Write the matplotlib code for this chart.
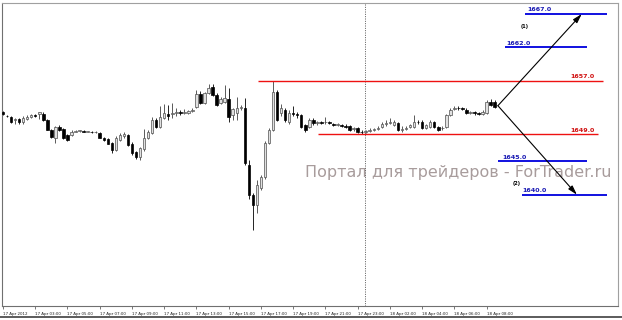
import matplotlib
matplotlib.use("Agg")
import matplotlib.pyplot as plt
from matplotlib.lines import Line2D
from matplotlib.transforms import ScaledTranslation

# ---------------- data ----------------
opens = [1652.4, 1651.8, 1651.6, 1651.1, 1651.3, 1650.9, 1651.3, 1651.6, 1651.9, 1652.1,
         1652.1, 1651.2, 1649.7, 1648.5, 1650.1, 1649.8, 1648.9, 1648.9, 1649.4, 1649.5,
         1649.5, 1649.4, 1649.4, 1649.3, 1649.2, 1648.5, 1648.3, 1647.7, 1646.7, 1648.2,
         1648.8, 1648.9, 1647.6, 1646.4, 1645.6, 1646.8, 1648.5, 1649.2, 1651.2, 1650.1,
         1651.5, 1652.0, 1652.0, 1652.2, 1652.3, 1652.2, 1652.2, 1652.5, 1653.1, 1655.1,
         1653.7, 1655.2, 1656.1, 1654.9, 1653.7, 1653.9, 1654.3, 1651.9, 1652.2, 1653.0,
         1653.0, 1644.4, 1640.0, 1638.5, 1641.0, 1642.6, 1647.7, 1649.7, 1655.4, 1652.2,
         1652.7, 1650.9, 1652.2, 1652.0, 1651.9, 1650.4, 1650.1, 1651.2, 1650.7, 1650.8,
         1650.8, 1650.8, 1650.6, 1650.4, 1650.4, 1650.3, 1650.2, 1649.8, 1650.0, 1649.4,
         1649.4, 1649.5, 1649.7, 1649.8, 1650.1, 1650.5, 1650.7, 1650.4, 1650.7, 1649.7,
         1649.8, 1650.1, 1650.1, 1650.9, 1650.9, 1650.0, 1650.1, 1650.9, 1650.1, 1649.9,
         1650.1, 1651.9, 1652.8, 1653.0, 1652.9, 1652.7, 1652.2, 1652.3, 1652.2, 1652.1,
         1652.2, 1653.9, 1653.9]
highs = [1652.5, 1651.9, 1651.8, 1651.5, 1651.5, 1651.8, 1651.9, 1652.1, 1652.1, 1652.4,
         1652.4, 1651.3, 1649.8, 1650.2, 1650.4, 1650.0, 1649.1, 1649.6, 1649.7, 1649.7,
         1649.6, 1649.5, 1649.5, 1649.5, 1649.4, 1648.6, 1648.5, 1647.9, 1648.7, 1649.2,
         1649.3, 1649.1, 1647.8, 1646.5, 1647.2, 1649.8, 1649.6, 1651.6, 1651.4, 1653.3,
         1653.6, 1653.4, 1653.7, 1652.9, 1652.7, 1652.8, 1652.7, 1653.0, 1655.7, 1655.5,
         1655.4, 1656.5, 1656.5, 1655.2, 1654.6, 1656.4, 1655.9, 1653.0, 1654.6, 1653.4,
         1654.5, 1645.2, 1640.3, 1642.2, 1643.0, 1648.0, 1650.0, 1657.0, 1655.6, 1653.5,
         1653.0, 1652.6, 1653.2, 1652.4, 1652.1, 1650.6, 1651.5, 1651.4, 1651.0, 1651.0,
         1651.6, 1651.0, 1650.7, 1650.7, 1650.6, 1650.5, 1650.4, 1650.1, 1650.1, 1649.6,
         1649.7, 1649.9, 1650.0, 1650.2, 1650.8, 1651.1, 1651.5, 1651.2, 1650.9, 1650.2,
         1650.3, 1650.6, 1651.9, 1651.2, 1651.1, 1650.6, 1651.1, 1651.0, 1650.3, 1650.2,
         1652.1, 1652.9, 1653.3, 1653.3, 1653.1, 1652.9, 1652.5, 1652.5, 1652.4, 1652.6,
         1654.1, 1654.3, 1654.1]
lows = [1651.9, 1651.6, 1650.7, 1650.6, 1650.6, 1650.6, 1651.1, 1651.4, 1651.6, 1651.3,
        1651.0, 1649.6, 1648.5, 1647.7, 1649.5, 1648.3, 1648.0, 1648.7, 1649.3, 1649.4,
        1649.3, 1649.3, 1649.2, 1649.2, 1648.4, 1648.0, 1647.5, 1646.2, 1646.5, 1648.0,
        1648.5, 1647.3, 1646.0, 1645.3, 1645.2, 1646.6, 1648.3, 1649.0, 1649.9, 1649.9,
        1651.3, 1651.2, 1651.5, 1651.8, 1651.9, 1652.0, 1652.0, 1652.3, 1652.9, 1653.5,
        1653.5, 1655.0, 1654.7, 1653.2, 1653.5, 1653.7, 1650.9, 1651.2, 1651.2, 1652.7,
        1644.5, 1639.3, 1634.7, 1637.3, 1640.7, 1642.4, 1647.5, 1649.5, 1651.0, 1651.8,
        1650.9, 1650.6, 1651.8, 1651.5, 1649.9, 1649.4, 1649.9, 1650.4, 1650.4, 1650.5,
        1650.5, 1650.5, 1650.2, 1650.2, 1650.1, 1649.9, 1649.5, 1649.5, 1649.2, 1649.1,
        1649.2, 1649.4, 1649.5, 1649.6, 1649.9, 1650.3, 1650.5, 1650.2, 1649.5, 1649.4,
        1649.6, 1649.9, 1649.9, 1650.6, 1649.8, 1649.8, 1649.9, 1649.9, 1649.5, 1649.7,
        1649.9, 1651.7, 1652.6, 1652.7, 1652.6, 1652.0, 1652.0, 1651.9, 1651.9, 1651.9,
        1652.0, 1653.2, 1652.9]
closes = [1652.1, 1651.7, 1650.9, 1651.3, 1650.8, 1651.4, 1651.6, 1651.9, 1651.8, 1652.3,
          1651.2, 1649.7, 1648.6, 1650.1, 1649.7, 1648.5, 1648.2, 1649.4, 1649.5, 1649.5,
          1649.4, 1649.4, 1649.3, 1649.4, 1648.5, 1648.2, 1647.6, 1646.7, 1648.5, 1648.9,
          1649.0, 1647.4, 1646.2, 1645.6, 1647.0, 1648.5, 1649.4, 1651.2, 1650.1, 1651.6,
          1652.2, 1651.8, 1652.2, 1652.3, 1652.2, 1652.4, 1652.5, 1652.7, 1655.1, 1653.7,
          1655.2, 1655.9, 1654.9, 1653.4, 1654.3, 1654.5, 1651.6, 1652.8, 1653.0, 1653.1,
          1644.7, 1640.0, 1638.5, 1641.4, 1642.6, 1647.7, 1649.7, 1655.4, 1651.2, 1653.0,
          1651.2, 1652.2, 1652.1, 1651.9, 1650.1, 1649.7, 1651.2, 1650.7, 1650.8, 1650.7,
          1650.9, 1650.7, 1650.4, 1650.5, 1650.3, 1650.1, 1649.7, 1649.9, 1649.4, 1649.3,
          1649.5, 1649.7, 1649.8, 1650.0, 1650.5, 1650.7, 1650.9, 1650.9, 1649.7, 1649.8,
          1650.0, 1650.4, 1650.9, 1650.8, 1650.0, 1650.4, 1650.9, 1650.1, 1649.7, 1650.0,
          1651.9, 1652.7, 1653.0, 1652.9, 1652.8, 1652.2, 1652.3, 1652.2, 1652.1, 1652.3,
          1653.9, 1653.4, 1653.1]

tick_labels = ["17 Apr 2012", "17 Apr 03:00", "17 Apr 05:00", "17 Apr 07:00",
               "17 Apr 09:00", "17 Apr 11:00", "17 Apr 13:00", "17 Apr 15:00",
               "17 Apr 17:00", "17 Apr 19:00", "17 Apr 21:00", "17 Apr 23:00",
               "18 Apr 02:00", "18 Apr 04:00", "18 Apr 06:00", "18 Apr 08:00"]
bars_per_tick = 8
separator_bar = 90

level_prices = [1667.0, 1662.0, 1657.0, 1649.0, 1645.0, 1640.0]
level_labels = ["1667.0", "1662.0", "1657.0", "1649.0", "1645.0", "1640.0"]
level_kinds = ["target", "target", "resistance", "support", "target", "target"]

scenario_labels = ["(1)", "(2)"]
scenario_start = (122.8, 1653.3)
scenario_targets = [1667.0, 1640.0]

watermark = "Портал для трейдеров - ForTrader.ru"

# ---------------- layout / style ----------------
level_span = [(129.5, 149.9), (124.6, 144.9), (63.3, 148.9),
              (78.2, 147.6), (122.8, 144.9), (128.8, 149.9)]
level_text_x = [130.0, 124.8, 140.7, 140.7, 123.8, 128.8]
kind_color = {"target": "#1010e0", "resistance": "#ee1111", "support": "#ee1111"}
kind_text = {"target": "#1a1ab4", "resistance": "#d01010", "support": "#d01010"}
kind_lw = {"target": 1.4, "resistance": 1.0, "support": 1.0}
arrow_end_x = [143.6, 142.4]
scenario_text_pos = [(129.5, 1665.1), (127.5, 1641.7)]

W, H = 622, 320
fig = plt.figure(figsize=(W / 100, H / 100), dpi=100)
fig.patch.set_facecolor("white")
ax = fig.add_axes([2 / W, 14 / H, 616 / W, 303 / H])
ax.set_facecolor("white")

n = len(opens)
xs = list(range(n))
body_w = 0.62
for i in xs:
    o, h, l, c = opens[i], highs[i], lows[i], closes[i]
    bull = c >= o
    ax.vlines(i, l, h, color="#000000" if not bull else "#404040", lw=0.6, zorder=2)
    bottom = min(o, c)
    height = max(abs(c - o), 0.12)
    if bull:
        ax.bar(i, height, bottom=bottom, width=body_w, color="#e0e0e0",
               edgecolor="#505050", linewidth=0.5, zorder=3)
    else:
        ax.bar(i, height, bottom=bottom, width=body_w, color="#000000",
               edgecolor="#000000", linewidth=0.5, zorder=3)

# period separator
ax.axvline(separator_bar - 0.2, color="#404040", lw=0.6, ls=(0, (1.2, 1.6)), zorder=1)

# levels
for p, lab, kind, (x0, x1), tx in zip(level_prices, level_labels, level_kinds,
                                      level_span, level_text_x):
    ax.hlines(p, x0, x1, color=kind_color[kind], lw=kind_lw[kind], zorder=4)
    ax.annotate(lab, (tx, p), xytext=(0, 1.2), textcoords="offset points",
                ha="left", va="bottom", fontsize=4.6, fontweight="bold",
                color=kind_text[kind], zorder=5)

# scenario arrows
for tgt, ex, lab, (lx, ly) in zip(scenario_targets, arrow_end_x, scenario_labels,
                                   scenario_text_pos):
    ax.annotate("", xy=(ex, tgt), xytext=scenario_start,
                arrowprops=dict(arrowstyle="-|>,head_length=0.55,head_width=0.16",
                                color="black", lw=0.8, shrinkA=0, shrinkB=0),
                zorder=6)
    ax.text(lx, ly, lab, fontsize=3.6, fontweight="bold", ha="center", va="center",
            color="black")

# watermark
ax.text(0.492, 0.442, watermark, transform=ax.transAxes, fontsize=11.5,
        color="#a89c9c", ha="left", va="center", zorder=0)

# axes
ax.set_xlim(-0.25, 152.6)
ax.set_ylim(1623.36, 1668.65)
ax.set_yticks([])
ticks = list(range(0, n, bars_per_tick))
ax.set_xticks(ticks)
ax.set_xticklabels(tick_labels[:len(ticks)], fontsize=2.9, color="#202020")
off = ScaledTranslation(1.5 / 100, 0, fig.dpi_scale_trans)
for t in ax.get_xticklabels():
    t.set_ha("left")
    t.set_transform(t.get_transform() + off)
ax.tick_params(axis="x", length=2.5, width=0.5, color="#404040", pad=1.8)
for s in ["left", "bottom"]:
    ax.spines[s].set_color("#707070")
    ax.spines[s].set_linewidth(0.8)
for s in ["top", "right"]:
    ax.spines[s].set_color("#a0a0a0")
    ax.spines[s].set_linewidth(0.8)

fig.add_artist(Line2D([0, 1], [3.5 / H, 3.5 / H], transform=fig.transFigure,
                      color="#404040", lw=1.2))

fig.savefig("out.png", dpi=100, facecolor="white")
